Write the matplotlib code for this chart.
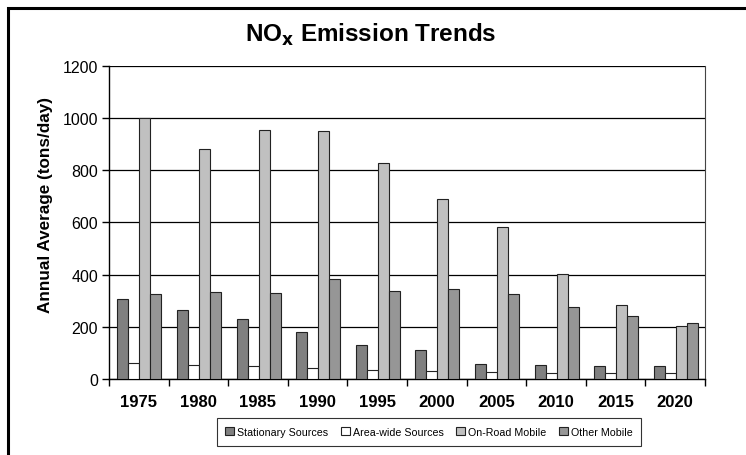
import matplotlib.pyplot as plt
import numpy as np
from matplotlib.patches import Rectangle

plt.rcParams['font.family'] = ['Liberation Sans', 'DejaVu Sans']

years = ['1975', '1980', '1985', '1990', '1995', '2000', '2005', '2010', '2015', '2020']
stationary = [305, 265, 229, 180, 130, 111, 59, 54, 51, 50]
area_wide = [60, 54, 50, 42, 33, 29, 26, 22, 22, 22]
on_road = [1000, 880, 953, 952, 829, 691, 584, 401, 284, 202]
other_mobile = [327, 333, 330, 383, 337, 344, 326, 275, 240, 214]

series = [
    ('Stationary Sources', stationary, '#808080'),
    ('Area-wide Sources', area_wide, '#ffffff'),
    ('On-Road Mobile', on_road, '#c0c0c0'),
    ('Other Mobile', other_mobile, '#969696'),
]

fig = plt.figure(figsize=(7.46, 4.56), dpi=100)
ax = fig.add_axes([109 / 746, 1 - 380 / 456, (705 - 109) / 746, (380 - 67) / 456])

# outer frame (cut off on right and bottom like the reference)
fig.patches.append(Rectangle((8 / 746, -0.05), 1.0, 1 - 9 / 456 + 0.05,
                             transform=fig.transFigure, fill=False,
                             edgecolor='black', linewidth=2.2))

x = np.arange(len(years))
w = 0.185
for i, (name, vals, col) in enumerate(series):
    ax.bar(x + (i - 1.5) * w + 0.01, vals, w, color=col, edgecolor='#222222',
           linewidth=0.8, label=name, zorder=3)

ax.set_xlim(-0.5, len(years) - 0.5)
ax.set_ylim(0, 1200)
ax.set_yticks(range(0, 1201, 200))
ax.yaxis.grid(True, color='black', linewidth=0.9, zorder=0)
ax.set_axisbelow(True)

ax.set_xticks(np.arange(-0.5, len(years), 1.0))
ax.set_xticklabels([])
ax.set_xticks(x, minor=True)
ax.set_xticklabels(years, minor=True, fontsize=12, fontweight='bold')
ax.tick_params(axis='x', which='minor', length=0, pad=11)
ax.tick_params(axis='x', which='major', length=5, width=1, direction='out')
ax.tick_params(axis='y', length=5, width=1, labelsize=11.5, pad=3)

ax.spines['top'].set_visible(False)
ax.spines['right'].set_color('#444444')
ax.spines['left'].set_linewidth(1)
ax.spines['bottom'].set_linewidth(1)

fig.text(46 / 746, 1 - 205 / 456, 'Annual Average (tons/day)', rotation=90,
         ha='center', va='center', fontsize=12.3, fontweight='bold')

fig.text(371 / 746, 1 - 35 / 456, r'NO$_\mathbf{x}$ Emission Trends', ha='center', va='center',
         fontsize=17.5, fontweight='bold')

leg = fig.legend(loc='center', bbox_to_anchor=(429 / 746, 1 - 433 / 456), ncol=4,
                 fontsize=7.7, frameon=True, fancybox=False, edgecolor='black',
                 handlelength=0.8, handleheight=0.8, handletextpad=0.3,
                 columnspacing=1.2, borderpad=0.8)
leg.get_frame().set_linewidth(0.8)

fig.savefig('out.png', dpi=100)
